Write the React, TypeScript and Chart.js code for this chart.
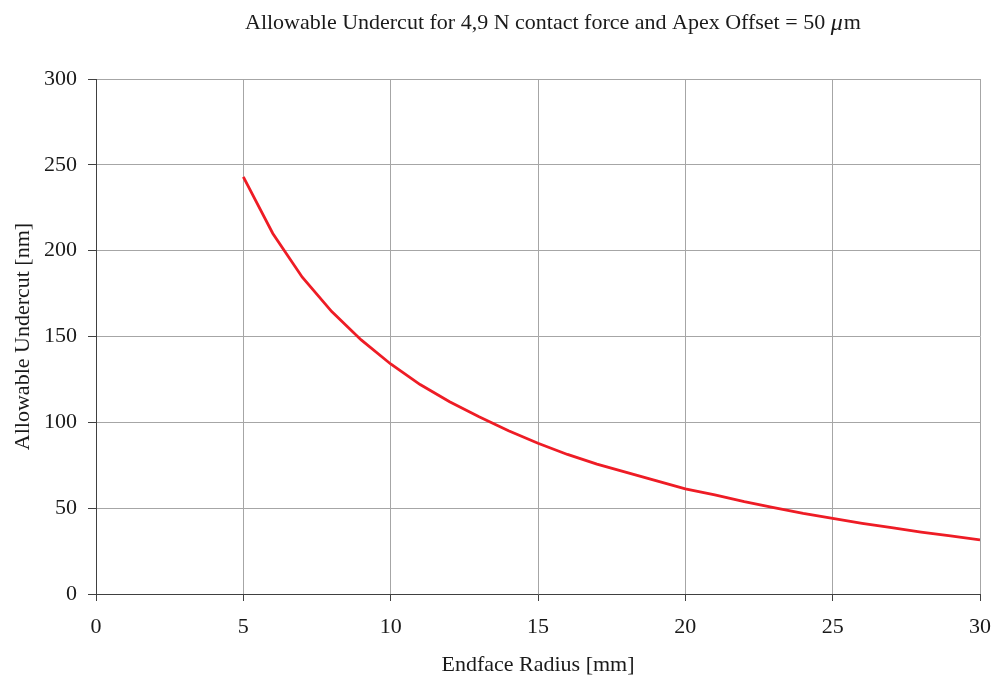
import React, { useEffect, useRef } from "react";
import { Chart, registerables } from "chart.js";

Chart.register(...registerables);

const radiusMm: number[] = [5, 6, 7, 8, 9, 10, 11, 12, 13, 14, 15, 16, 17, 18, 19, 20, 21, 22, 23, 24, 25, 26, 27, 28, 29, 30];
const undercutNm: number[] = [243, 210, 184.5, 164.5, 148, 134, 122, 112, 103.3, 95.1, 87.8, 81.3, 75.7, 70.8, 66, 61.2, 57.7, 53.8, 50.3, 47, 44.1, 41.2, 38.6, 36.1, 33.8, 31.5];

const titleMain = "Allowable Undercut for 4,9 N contact force and Apex Offset = 50 ";
const titleMu = "\u03bc";
const titleUnit = "m";
const xTitle = "Endface Radius [mm]";
const yTitle = "Allowable Undercut [nm]";

const FONT = "'Liberation Serif', 'DejaVu Serif', serif";
const TEXT = "#1a1a1a";

const titlePlugin = {
  id: "customTitle",
  afterDraw(chart: any) {
    const ctx = chart.ctx;
    ctx.save();
    ctx.fillStyle = TEXT;
    ctx.textBaseline = "middle";
    ctx.textAlign = "left";
    const y = 23;
    let x = 245;
    ctx.font = `22px ${FONT}`;
    ctx.fillText(titleMain, x, y);
    x += ctx.measureText(titleMain).width;
    ctx.font = `italic 24px ${FONT}`;
    ctx.fillText(titleMu, x, y + 1);
    x += ctx.measureText(titleMu).width + 1;
    ctx.font = `22px ${FONT}`;
    ctx.fillText(titleUnit, x, y);
    ctx.restore();
  },
};

export default function App() {
  const ref = useRef<HTMLCanvasElement | null>(null);
  useEffect(() => {
    document.body.style.margin = "0";
    if (!ref.current) return;
    const chart = new Chart(ref.current, {
      type: "line",
      data: {
        datasets: [
          {
            data: radiusMm.map((r, i) => ({ x: r, y: undercutNm[i] })),
            borderColor: "#ee1c25",
            borderWidth: 2.8,
            pointRadius: 0,
            tension: 0,
            fill: false,
          },
        ],
      },
      options: {
        animation: false,
        responsive: false,
        layout: { padding: { top: 79, right: 15, bottom: 1, left: 0 } },
        plugins: { legend: { display: false }, title: { display: false }, tooltip: { enabled: false } },
        scales: {
          x: {
            type: "linear",
            min: 0,
            max: 30,
            afterFit: (s: any) => {
              s.height = 84;
              s.paddingLeft = 0;
              s.paddingRight = 0;
            },
            ticks: { stepSize: 5, color: TEXT, font: { family: FONT, size: 22 }, padding: 13, maxRotation: 0 },
            grid: { color: "#a6a6a6", lineWidth: 1, tickLength: 7, tickColor: "#404040" },
            border: { color: "#404040", width: 1 },
            title: { display: true, text: xTitle, color: TEXT, font: { family: FONT, size: 22 }, padding: 0 },
          },
          y: {
            type: "linear",
            min: 0,
            max: 300,
            afterFit: (s: any) => {
              s.width = 96;
              s.paddingTop = 0;
              s.paddingBottom = 0;
            },
            ticks: { stepSize: 50, color: TEXT, font: { family: FONT, size: 22 }, padding: 11 },
            grid: { color: "#a6a6a6", lineWidth: 1, tickLength: 8, tickColor: "#404040" },
            border: { color: "#404040", width: 1 },
            title: { display: true, text: yTitle, color: TEXT, font: { family: FONT, size: 22 }, padding: { top: 10, bottom: 0 } },
          },
        },
      },
      plugins: [titlePlugin],
    });
    return () => chart.destroy();
  }, []);
  return (
    <div style={{ width: 995, height: 679, background: "#fff" }}>
      <canvas ref={ref} width={995} height={679} style={{ display: "block" }} />
    </div>
  );
}
